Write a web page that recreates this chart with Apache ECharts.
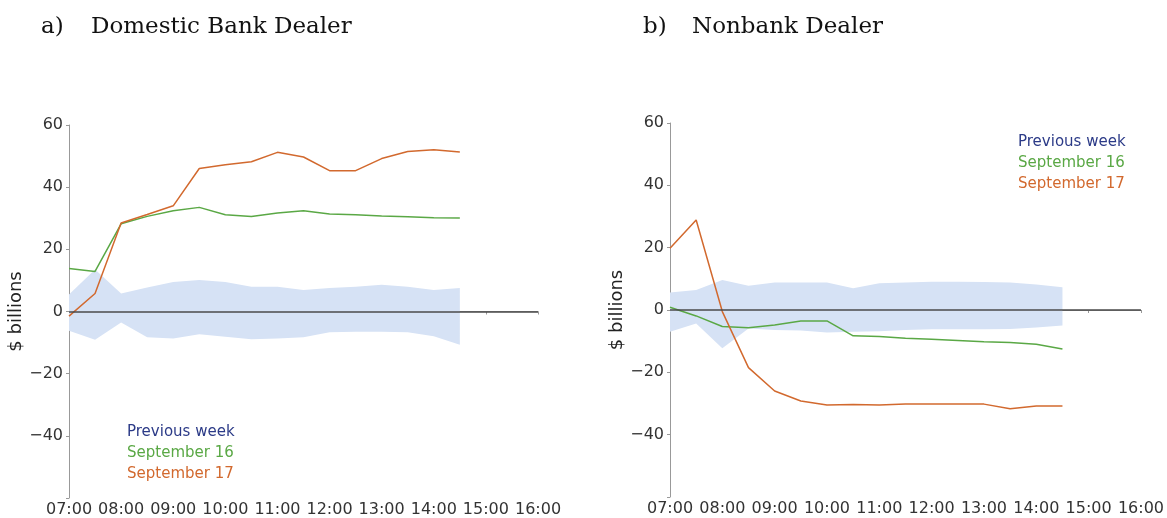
<!DOCTYPE html>
<html>
<head>
<meta charset="utf-8">
<script src="https://cdn.jsdelivr.net/npm/echarts@6/dist/echarts.min.js"></script>
<style>
html, body { margin: 0; padding: 0; background: #fff; }
#chart { width: 1167px; height: 518px; }
</style>
</head>
<body>
<div id="chart"></div>
<script>
// 时间点（每30分钟）
var times = ['07:00', '07:30', '08:00', '08:30', '09:00', '09:30', '10:00', '10:30',
    '11:00', '11:30', '12:00', '12:30', '13:00', '13:30', '14:00', '14:30'];
var xTickLabels = ['07:00', '08:00', '09:00', '10:00', '11:00', '12:00', '13:00', '14:00', '15:00', '16:00'];

// a) Domestic Bank Dealer
var bankSep16 = [13.8, 12.9, 28.2, 30.6, 32.4, 33.5, 31.1, 30.6, 31.7, 32.4, 31.4, 31.1, 30.7, 30.5, 30.2, 30.1];
var bankSep17 = [-1.5, 5.8, 28.5, 31.2, 34.0, 46.0, 47.2, 48.2, 51.2, 49.7, 45.3, 45.3, 49.2, 51.5, 52.0, 51.3];
var bankPrevHigh = [5.5, 13.5, 5.8, 7.7, 9.5, 10.1, 9.5, 8.0, 8.0, 6.9, 7.6, 8.0, 8.6, 8.0, 6.9, 7.6];
var bankPrevLow = [-6.2, -9.1, -3.5, -8.3, -8.7, -7.3, -8.1, -8.9, -8.7, -8.3, -6.7, -6.5, -6.5, -6.7, -8.0, -10.7];

// b) Nonbank Dealer
var nonbankSep16 = [0.9, -1.9, -5.3, -5.7, -4.8, -3.5, -3.5, -8.3, -8.5, -9.1, -9.4, -9.8, -10.2, -10.4, -11.0, -12.5];
var nonbankSep17 = [19.8, 28.9, -0.5, -18.5, -26.0, -29.2, -30.5, -30.3, -30.5, -30.2, -30.2, -30.2, -30.2, -31.7, -30.8, -30.8];
var nonbankPrevHigh = [5.6, 6.4, 9.6, 7.8, 8.8, 8.8, 8.8, 7.0, 8.6, 8.8, 9.1, 9.1, 9.0, 8.8, 8.2, 7.3];
var nonbankPrevLow = [-7.0, -4.3, -12.3, -5.9, -6.4, -6.6, -7.2, -7.0, -6.8, -6.4, -6.2, -6.2, -6.2, -6.1, -5.6, -5.0];

var cGreen = '#5aa845';
var cOrange = '#d2692e';
var cNavy = '#2b3a87';
var cBand = '#d6e2f5';

function toHour(t) {
    var p = t.split(':');
    return parseInt(p[0], 10) + parseInt(p[1], 10) / 60;
}

function pairs(values) {
    return times.map(function (t, i) { return [toHour(t), values[i]]; });
}

function fmtY(v) {
    if (v == -60) return '';
    return v < 0 ? '\u2212' + (-v) : String(v);
}

var axisFont = { fontFamily: 'DejaVu Sans', fontSize: 16, color: '#333' };

function makeX(idx) {
    return {
        type: 'value', gridIndex: idx, min: 7, max: 16, interval: 1,
        axisLine: { show: true, lineStyle: { color: '#999', width: 1 } },
        axisTick: { show: true, length: 3, lineStyle: { color: '#999' } },
        splitLine: { show: false },
        axisLabel: Object.assign({ margin: 4, formatter: function (v) { return xTickLabels[v - 7]; } }, axisFont)
    };
}

function makeY(idx) {
    return {
        type: 'value', gridIndex: idx, min: -60, max: 60, interval: 20,
        name: '$ billions', nameLocation: 'middle', nameRotate: 90, nameGap: 37,
        nameTextStyle: { fontFamily: 'DejaVu Sans', fontSize: 18, color: '#222' },
        axisLine: { show: true, onZero: false, lineStyle: { color: '#999', width: 1 } },
        axisTick: { show: true, length: 3, lineStyle: { color: '#999' } },
        splitLine: { show: false },
        axisLabel: Object.assign({ margin: 6, formatter: fmtY }, axisFont)
    };
}

// 上周区间带：用自定义系列画多边形
function bandSeries(idx, high, low) {
    var hs = pairs(high);
    var ls = pairs(low);
    return {
        name: 'Previous week', type: 'custom', xAxisIndex: idx, yAxisIndex: idx,
        data: [[7, 0]], encode: { x: 0, y: 1 }, silent: true, z: 1,
        itemStyle: { color: cBand },
        renderItem: function (params, api) {
            var top = hs.map(function (p) { return api.coord(p); });
            var bottom = ls.map(function (p) { return api.coord(p); }).reverse();
            return {
                type: 'polygon',
                shape: { points: top.concat(bottom) },
                style: { fill: cBand }
            };
        }
    };
}

function makeSeries(idx, sep16, sep17, high, low) {
    return [
        bandSeries(idx, high, low),
        {
            name: 'September 16', type: 'line', xAxisIndex: idx, yAxisIndex: idx,
            data: pairs(sep16), symbol: 'none',
            lineStyle: { color: cGreen, width: 1.5 }, itemStyle: { color: cGreen }, z: 3,
            markLine: {
                silent: true, symbol: 'none', label: { show: false },
                lineStyle: { color: '#4a4a4a', width: 1.5, type: 'solid' },
                data: [{ yAxis: 0 }]
            }
        },
        {
            name: 'September 17', type: 'line', xAxisIndex: idx, yAxisIndex: idx,
            data: pairs(sep17), symbol: 'none',
            lineStyle: { color: cOrange, width: 1.5 }, itemStyle: { color: cOrange }, z: 4
        }
    ];
}

function makeLegend(left, top) {
    return {
        left: left, top: top, orient: 'vertical', padding: 0,
        icon: 'none', itemWidth: 0, itemHeight: 0, itemGap: 6,
        selectedMode: false,
        textStyle: { fontFamily: 'DejaVu Sans', fontSize: 15, lineHeight: 15 },
        data: [
            { name: 'Previous week', textStyle: { color: cNavy } },
            { name: 'September 16', textStyle: { color: cGreen } },
            { name: 'September 17', textStyle: { color: cOrange } }
        ]
    };
}

function titleText(x, text) {
    return {
        type: 'text', left: x, top: 16,
        style: { text: text, fontFamily: 'DejaVu Serif', fontSize: 23, fill: '#111' }
    };
}

var myChart = echarts.init(document.getElementById('chart'), null, { renderer: 'canvas' });
var option = {
    animation: false,
    backgroundColor: '#fff',
    grid: [
        { left: 69, top: 125, width: 469, height: 374 },
        { left: 670, top: 123, width: 472, height: 374 }
    ],
    xAxis: [makeX(0), makeX(1)],
    yAxis: [makeY(0), makeY(1)],
    legend: [makeLegend(122, 425), makeLegend(1013, 135)],
    graphic: [
        titleText(41, 'a)'),
        titleText(91, 'Domestic Bank Dealer'),
        titleText(643, 'b)'),
        titleText(692, 'Nonbank Dealer')
    ],
    series: makeSeries(0, bankSep16, bankSep17, bankPrevHigh, bankPrevLow)
        .concat(makeSeries(1, nonbankSep16, nonbankSep17, nonbankPrevHigh, nonbankPrevLow))
};
myChart.setOption(option);
</script>
</body>
</html>
